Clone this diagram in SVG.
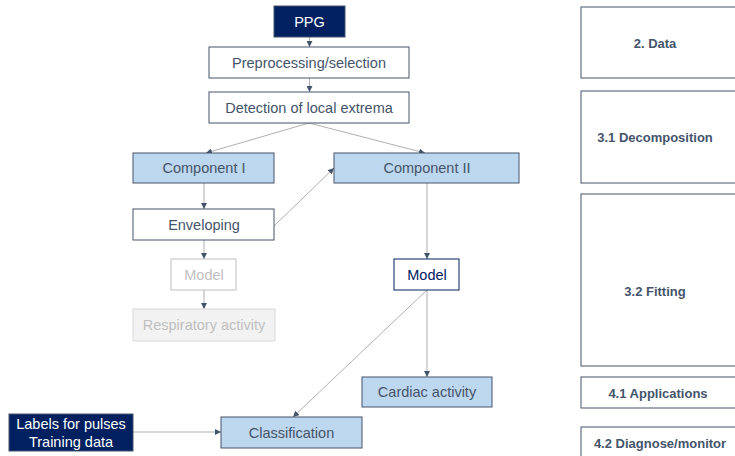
<svg xmlns="http://www.w3.org/2000/svg" width="735" height="456" viewBox="0 0 735 456">
<defs>
<marker id="ah" viewBox="0 0 10 10" refX="10" refY="5" markerWidth="6" markerHeight="6" markerUnits="userSpaceOnUse" orient="auto">
<path d="M0,0 L10,5 L0,10 z" fill="#44546A"/>
</marker>
<style>
.t{font-family:"Liberation Sans","Open Sans",sans-serif;font-size:14.5px;fill:#44546A;text-anchor:middle;dominant-baseline:central}
.b{font-family:"Liberation Sans","Open Sans",sans-serif;font-size:13px;font-weight:bold;fill:#44546A;text-anchor:middle;dominant-baseline:central}
.w{fill:#FFFFFF;stroke:#44546A;stroke-width:1}
.c{fill:#BDD7EE;stroke:#44546A;stroke-width:1}
.n{fill:#002060;stroke:#44546A;stroke-width:1}
.e{stroke:#A6A6A6;stroke-width:0.9;fill:none;marker-end:url(#ah)}
</style>
</defs>
<rect width="735" height="456" fill="#FFFFFF"/>
<g id="connectors">
<line class="e" x1="309.5" y1="37" x2="309.5" y2="47"/>
<line class="e" x1="309.5" y1="78" x2="309.5" y2="92"/>
<line class="e" x1="309" y1="123" x2="206" y2="153"/>
<line class="e" x1="309" y1="123" x2="425" y2="153"/>
<line class="e" x1="204" y1="183" x2="204" y2="209"/>
<line class="e" x1="274" y1="226" x2="334" y2="168"/>
<line class="e" x1="204" y1="240" x2="204" y2="259"/>
<line class="e" x1="204" y1="290" x2="204" y2="309"/>
<line class="e" x1="427" y1="183" x2="427" y2="259"/>
<line class="e" x1="427" y1="290" x2="427" y2="377"/>
<line class="e" x1="427" y1="290" x2="293" y2="417"/>
<line class="e" x1="133" y1="432" x2="221" y2="432"/>
</g>
<g id="ppg"><rect class="n" x="274" y="6" width="71" height="31"/><text class="t" x="309.5" y="21.5" style="fill:#FFFFFF">PPG</text></g>
<g id="preprocessing"><rect class="w" x="209" y="47" width="200" height="31"/><text class="t" x="309" y="63">Preprocessing/selection</text></g>
<g id="detection"><rect class="w" x="209" y="92" width="200" height="31"/><text class="t" x="309" y="107.5">Detection of local extrema</text></g>
<g id="component1"><rect class="c" x="133" y="153" width="141" height="30"/><text class="t" x="204" y="168">Component I</text></g>
<g id="component2"><rect class="c" x="334" y="153" width="185" height="30"/><text class="t" x="427" y="168">Component II</text></g>
<g id="enveloping"><rect class="w" x="133" y="209" width="141" height="31"/><text class="t" x="204" y="225">Enveloping</text></g>
<g id="model1"><rect x="171" y="259" width="65" height="31" fill="#FFFFFF" stroke="#BFBFBF"/><text class="t" x="204" y="274.5" style="fill:#BFBFBF">Model</text></g>
<g id="respiratory"><rect x="133" y="309" width="142" height="32" fill="#F2F2F2" stroke="#D9D9D9"/><text class="t" x="204" y="325" style="fill:#BFBFBF">Respiratory activity</text></g>
<g id="model2"><rect x="394" y="259" width="65" height="31" fill="#FFFFFF" stroke="#002060"/><text class="t" x="427" y="274.5" style="fill:#002060">Model</text></g>
<g id="cardiac"><rect class="c" x="362" y="377" width="130" height="30"/><text class="t" x="427" y="392">Cardiac activity</text></g>
<g id="classification"><rect class="c" x="221" y="417" width="141" height="31"/><text class="t" x="291.5" y="433">Classification</text></g>
<g id="labels"><rect class="n" x="9" y="414" width="124" height="37"/><text class="t" x="71" y="424" style="fill:#FFFFFF">Labels for pulses</text><text class="t" x="71" y="442" style="fill:#FFFFFF">Training data</text></g>
<g id="sec-data"><rect class="w" x="581" y="7" width="160" height="71"/><text class="b" x="655" y="43">2. Data</text></g>
<g id="sec-decomp"><rect class="w" x="581" y="91" width="160" height="92"/><text class="b" x="655" y="137">3.1 Decomposition</text></g>
<g id="sec-fitting"><rect class="w" x="581" y="194" width="160" height="172"/><text class="b" x="655" y="291">3.2 Fitting</text></g>
<g id="sec-apps"><rect class="w" x="581" y="377" width="160" height="31"/><text class="b" x="658" y="393">4.1 Applications</text></g>
<g id="sec-diag"><rect class="w" x="581" y="427" width="160" height="40"/><text class="b" x="660" y="443">4.2 Diagnose/monitor</text></g>
</svg>
